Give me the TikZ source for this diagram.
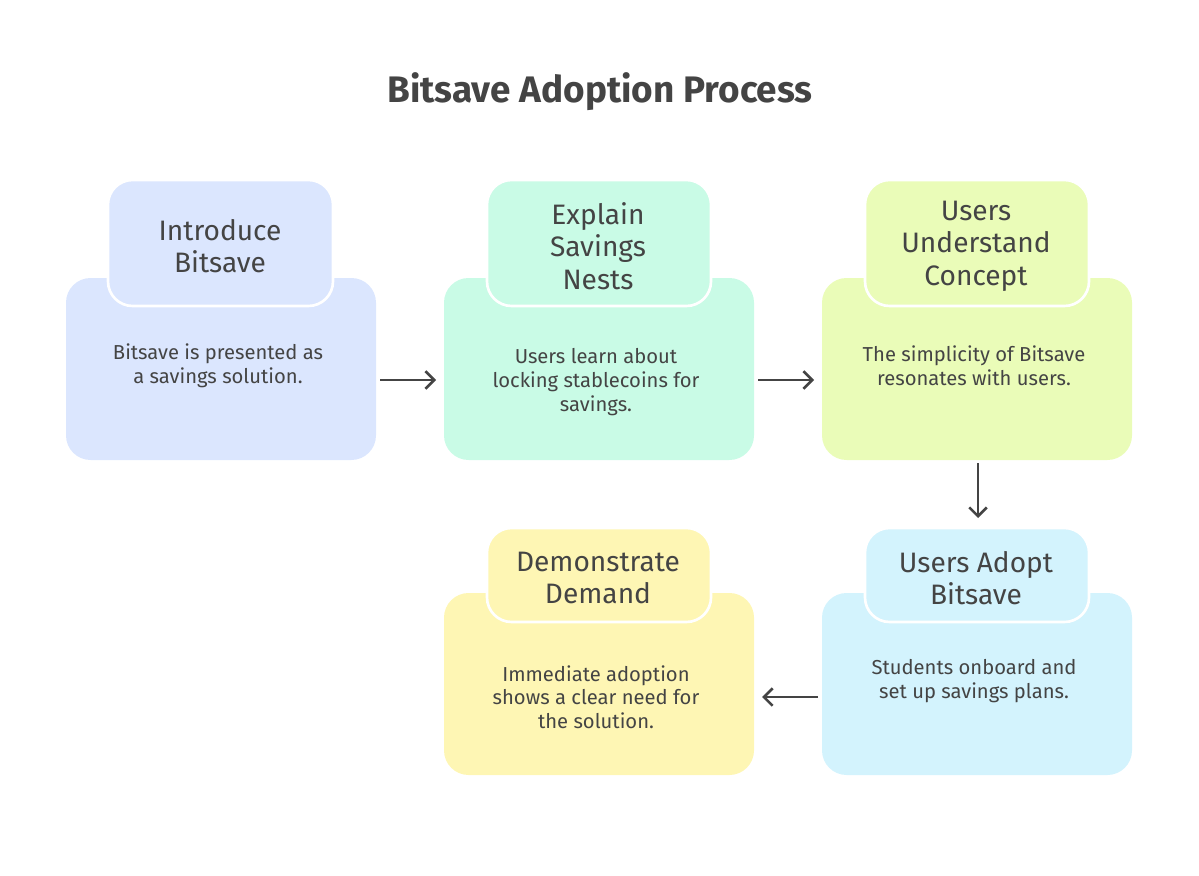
\documentclass[tikz,border=0pt]{standalone}
\usepackage{fontspec}
\setmainfont{Fira Sans}
\usepackage{tikz}
\usetikzlibrary{arrows.meta}
\definecolor{ink}{HTML}{444444}
\definecolor{cblue}{HTML}{DBE6FE}
\definecolor{cgreen}{HTML}{C9FBE6}
\definecolor{clime}{HTML}{EAFCB8}
\definecolor{ccyan}{HTML}{D3F3FD}
\definecolor{cyell}{HTML}{FEF6B4}
\tikzset{
  cardbg/.style={rounded corners=14pt},
  headbg/.style={draw=white, line width=1.5pt, rounded corners=14pt},
  headtxt/.style={text=ink, font=\fontsize{16}{18.5}\selectfont, align=center},
  bodytxt/.style={text=ink, font=\fontsize{11.5}{13.5}\selectfont, align=center},
  flow/.style={-{Straight Barb[length=5pt,width=10pt]}, draw=ink, line width=1.5pt}
}
\begin{document}
\begin{tikzpicture}[x=0.02cm,y=-0.02cm]
\useasboundingbox (0,0) rectangle (1199,875);
\node[text=ink, font=\fontsize{21}{24}\selectfont\bfseries] (title) at (600,92) {Bitsave Adoption Process};
% top row
\fill[cardbg, cblue] (66,278) rectangle (376,460);
\filldraw[headbg, fill=cblue] (108,180) rectangle (333,306);
\node[headtxt] (intro) at (220,246) {Introduce\\Bitsave};
\node[bodytxt] (introtxt) at (218,366) {Bitsave is presented as\\a savings solution.};
\fill[cardbg, cgreen] (444,278) rectangle (754,460);
\filldraw[headbg, fill=cgreen] (487,180) rectangle (711,306);
\node[headtxt] (explain) at (598,246) {Explain\\Savings\\Nests};
\node[bodytxt] (explaintxt) at (596,382) {Users learn about\\locking stablecoins for\\savings.};
\fill[cardbg, clime] (822,278) rectangle (1132,460);
\filldraw[headbg, fill=clime] (865,180) rectangle (1089,306);
\node[headtxt] (grasp) at (976,246) {Users\\Understand\\Concept};
\node[bodytxt] (grasptxt) at (974,366) {The simplicity of Bitsave\\resonates with users.};
% bottom row
\fill[cardbg, ccyan] (822,593) rectangle (1132,775);
\filldraw[headbg, fill=ccyan] (865,528) rectangle (1089,622);
\node[headtxt] (adopt) at (976,578) {Users Adopt\\Bitsave};
\node[bodytxt] (adopttxt) at (974,681) {Students onboard and\\set up savings plans.};
\fill[cardbg, cyell] (444,593) rectangle (754,775);
\filldraw[headbg, fill=cyell] (487,528) rectangle (711,622);
\node[headtxt] (demand) at (598,578) {Demonstrate\\Demand};
\node[bodytxt] (demandtxt) at (596,697) {Immediate adoption\\shows a clear need for\\the solution.};
% arrows
\coordinate (a1) at (380,380); \coordinate (b1) at (436,380);
\coordinate (a2) at (758,380); \coordinate (b2) at (814,380);
\coordinate (a3) at (978,463); \coordinate (b3) at (978,518);
\coordinate (a4) at (818,697); \coordinate (b4) at (762,697);
\draw[flow] (a1) -- (b1);
\draw[flow] (a2) -- (b2);
\draw[flow] (a3) -- (b3);
\draw[flow] (a4) -- (b4);
\end{tikzpicture}
\end{document}
